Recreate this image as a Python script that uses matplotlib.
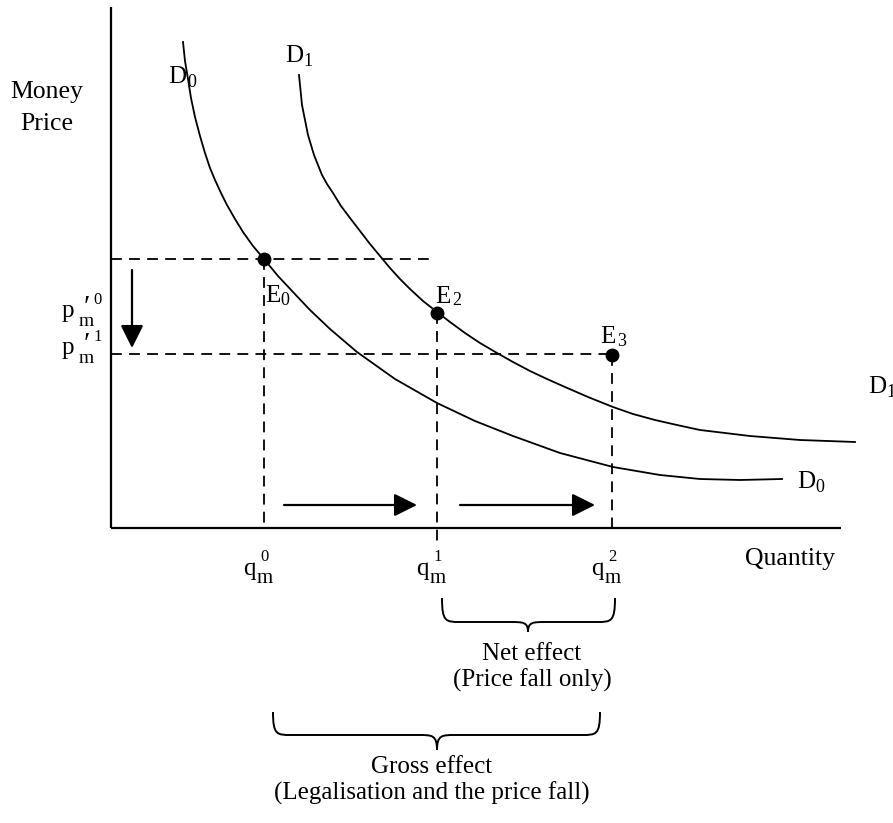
import matplotlib
matplotlib.use("Agg")
import matplotlib.pyplot as plt
from matplotlib.path import Path
from matplotlib.patches import PathPatch

plt.rcParams['font.family'] = ['Liberation Serif', 'DejaVu Serif']

# demand curves (picture coordinates, y grows downwards)
d0_x = [183, 185, 188, 191, 195, 200, 205, 210, 215, 221, 227, 235, 243, 253, 264, 278, 293, 310,
        330, 357, 395, 437, 475, 513, 560, 613, 660, 700, 740, 782]
d0_y = [42, 61, 79, 98, 117, 136, 153, 168, 180, 193, 205, 219, 232, 246, 259, 276, 292, 310,
        329, 352, 379, 403, 421, 436, 453, 467, 475, 479, 480, 479]
d1_x = [299, 300, 301, 302, 304, 306, 308, 311, 314, 318, 322, 327, 333, 341, 350, 360, 370, 380,
        390, 400, 410, 423, 437, 450, 465, 480, 497, 513, 530, 547, 565, 588, 613, 633,
        655, 677, 700, 725, 750, 775, 800, 828, 855]
d1_y = [75, 85, 95, 105, 115, 125, 135, 145, 155, 165, 175, 184, 193, 206, 218, 231, 244, 256,
        268, 279, 289, 301, 312, 322, 333, 343, 353, 362, 371, 379, 387, 397, 407, 414,
        420, 425, 430, 433, 436, 438, 440, 441, 442]

# equilibria
eq_x = [264, 437, 612]
eq_y = [259, 313, 355]
eq_names = ['0', '2', '3']

# quantities and prices
q_x = [264, 437, 612]
q_names = ['0', '1', '2']
p_y = [259, 354]
p_names = ['0', '1']

fig = plt.figure(figsize=(8.93, 8.23), dpi=100)
ax = fig.add_axes([0, 0, 1, 1])
ax.set_xlim(0, 893)
ax.set_ylim(823, 0)
ax.axis('off')

# axes
ax.plot([111, 111], [7, 528], color='black', lw=1.6, solid_capstyle='butt')
ax.plot([111, 841], [528, 528], color='black', lw=1.6, solid_capstyle='butt')

# curves
ax.plot(d0_x, d0_y, color='black', lw=1.3)
ax.plot(d1_x, d1_y, color='black', lw=1.3)

dash = dict(color='black', lw=1.3, dashes=(6, 4))
# dashed guides
ax.plot([111, 433], [p_y[0], p_y[0]], **dash)
ax.plot([111, q_x[2]], [p_y[1], p_y[1]], **dash)
ax.plot([q_x[0], q_x[0]], [eq_y[0], 528], **dash)
ax.plot([q_x[1], q_x[1]], [eq_y[1], 542], **dash)
ax.plot([q_x[2], q_x[2]], [eq_y[2], 528], **dash)

ax.plot(eq_x, eq_y, 'o', color='black', ms=9)

# arrows
arr = dict(arrowstyle='-|>,head_length=1.0,head_width=0.5', color='black', lw=1.6,
           shrinkA=0, shrinkB=0, mutation_scale=14)
ax.annotate('', xy=(132, 348), xytext=(132, 270), arrowprops=arr)
ax.annotate('', xy=(417, 505), xytext=(284, 505), arrowprops=arr)
ax.annotate('', xy=(595, 505), xytext=(460, 505), arrowprops=arr)


def lab(x, y, s, size=18):
    ax.text(x, y, s, fontsize=size, va='baseline', ha='left')


def brace(x0, x1, xc, ytop, ymid, ytip, r=18):
    verts = [(x0, ytop), (x0, ymid), (x0 + 4, ymid), (x0 + r, ymid),
             (xc - r, ymid),
             (xc - 5, ymid), (xc, ymid), (xc, ytip),
             (xc, ymid), (xc + 5, ymid), (xc + r, ymid),
             (x1 - r, ymid),
             (x1 - 4, ymid), (x1, ymid), (x1, ytop)]
    codes = [Path.MOVETO, Path.CURVE4, Path.CURVE4, Path.CURVE4,
             Path.LINETO,
             Path.CURVE4, Path.CURVE4, Path.CURVE4,
             Path.CURVE4, Path.CURVE4, Path.CURVE4,
             Path.LINETO,
             Path.CURVE4, Path.CURVE4, Path.CURVE4]
    ax.add_patch(PathPatch(Path(verts, codes), fill=False, lw=1.4, color='black'))


brace(442, 615, 528, 598, 622, 632)
brace(273, 600, 437, 712, 735, 750)

# axis titles
ax.text(47, 98, 'Money', fontsize=18.5, ha='center', va='baseline')
ax.text(47, 130, 'Price', fontsize=18.5, ha='center', va='baseline')
lab(745, 565, 'Quantity', 18.5)

# curve labels
lab(168, 83, 'D'); lab(187, 87, '0', 13)
lab(285, 62, 'D'); lab(303, 66, '1', 13)
lab(868, 393, 'D'); lab(886, 397, '1', 13)
lab(797, 488, 'D'); lab(815, 492, '0', 13)

# equilibrium labels
lab(265, 302, 'E'); lab(280, 305, eq_names[0], 13)
lab(435, 303, 'E'); lab(452, 305, eq_names[1], 13)
lab(600, 343, 'E'); lab(617, 346, eq_names[2], 13)

# quantity labels
for qx, qn in zip(q_x, q_names):
    lab(qx - 21, 575, 'q')
    lab(qx - 7, 583, 'm', 15)
    lab(qx - 4, 561, qn, 12)

# price labels
for py, pn in zip([317, 354], p_names):
    lab(62, py, 'p')
    lab(84, py - 2, '\u2032', 21)
    lab(79, py + 9, 'm', 14)
    lab(93, py - 13, pn, 12)

# effects
ax.text(532, 660, 'Net effect', fontsize=18, ha='center', va='baseline')
ax.text(532, 687, '(Price fall only)', fontsize=18, ha='center', va='baseline')
ax.text(432, 773, 'Gross effect', fontsize=18, ha='center', va='baseline')
ax.text(432, 800, '(Legalisation and the price fall)', fontsize=18, ha='center', va='baseline')

fig.savefig('out.png', dpi=100)
